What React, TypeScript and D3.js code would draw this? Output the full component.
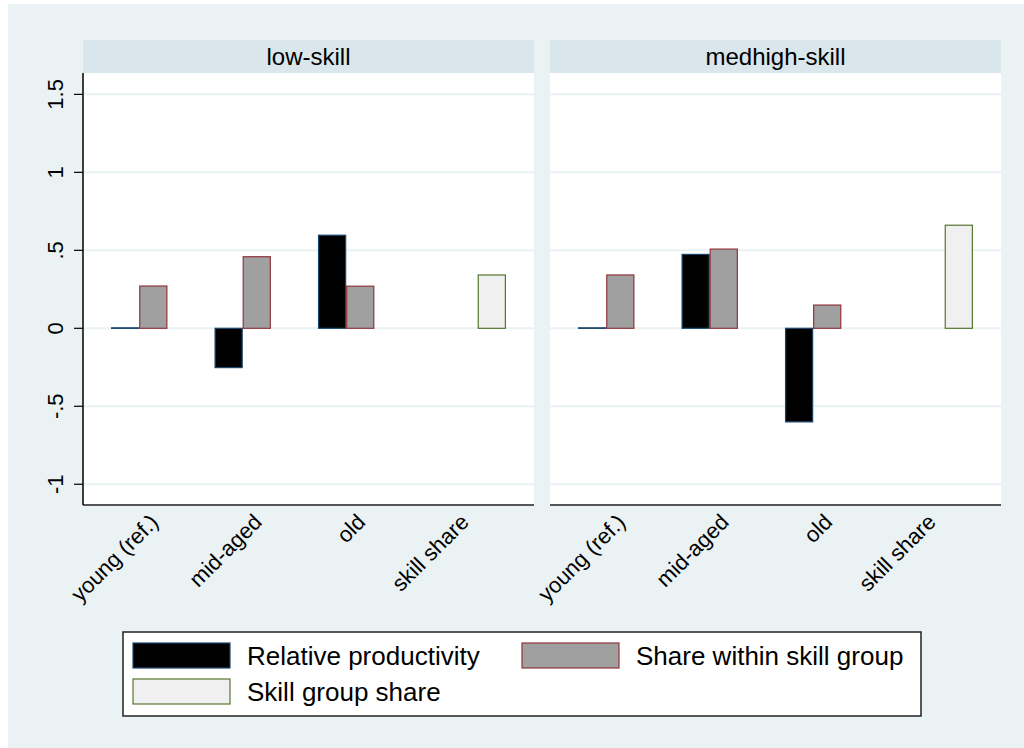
import React from "react";
import * as d3 from "d3";

const categories = ["young (ref.)", "mid-aged", "old", "skill share"];
const panels = ["low-skill", "medhigh-skill"];
const seriesNames = ["Relative productivity", "Share within skill group", "Skill group share"];

// values per panel, per category (null = no bar)
const relProdLow = [0.003, -0.252, 0.597, null];
const shareWithinLow = [0.271, 0.459, 0.27, null];
const skillShareLow = [null, null, null, 0.342];
const relProdHigh = [0.003, 0.474, -0.6, null];
const shareWithinHigh = [0.342, 0.508, 0.149, null];
const skillShareHigh = [null, null, null, 0.661];

const yTicks = [1.5, 1, 0.5, 0, -0.5, -1];
const yTickLabels = ["1.5", "1", ".5", "0", "-.5", "-1"];

const panelData = [
  [relProdLow, shareWithinLow, skillShareLow],
  [relProdHigh, shareWithinHigh, skillShareHigh],
];

const fills = ["#000000", "#a0a0a0", "#f0f0f0"];
const strokes = ["#1a476f", "#90353b", "#55752f"];

const FONT = "'Liberation Sans', Arial, Helvetica, sans-serif";

export default function App() {
  const panelX = [83, 550];
  const panelW = 451;
  const top = 73;
  const bottom = 505;
  const headerTop = 40;

  const y = d3.scaleLinear().domain([-1.133, 1.637]).range([bottom, top]);

  return (
    <svg
      width={1024}
      height={748}
      style={{ position: "absolute", left: 0, top: 0 }}
      fontFamily={FONT}
    >
      <rect x={0} y={0} width={1024} height={748} fill="#ffffff" />
      <rect x={8} y={4} width={1016} height={744} fill="#eaf2f3" />
      {panels.map((p, pi) => {
        const x0 = panelX[pi];
        const xb = d3
          .scaleBand<string>()
          .domain(categories)
          .range([x0, x0 + panelW])
          .paddingInner(19 / 103)
          .paddingOuter(28 / 103);
        const xs = d3
          .scaleBand<number>()
          .domain([0, 1, 2])
          .range([0, xb.bandwidth()]);
        return (
          <g key={p}>
            <rect x={x0} y={headerTop} width={panelW} height={top - headerTop} fill="#d9e6eb" />
            <text
              x={x0 + panelW / 2}
              y={(headerTop + top) / 2}
              dy="0.35em"
              textAnchor="middle"
              fontSize={24}
              fill="#000"
            >
              {p}
            </text>
            <rect x={x0} y={top} width={panelW} height={bottom - top} fill="#ffffff" />
            {yTicks.map((t) => (
              <line
                key={t}
                x1={x0}
                x2={x0 + panelW}
                y1={y(t)}
                y2={y(t)}
                stroke="#eaf2f3"
                strokeWidth={2}
              />
            ))}
            {panelData[pi].map((vals, si) =>
              vals.map((v, ci) => {
                if (v === null) return null;
                const bx = (xb(categories[ci]) as number) + (xs(si) as number);
                const y1 = y(Math.max(0, v));
                const y2 = y(Math.min(0, v));
                return (
                  <rect
                    key={`${si}-${ci}`}
                    x={bx + 0.5}
                    y={y1}
                    width={xs.bandwidth() - 1}
                    height={Math.max(0.5, y2 - y1)}
                    fill={fills[si]}
                    stroke={strokes[si]}
                    strokeWidth={1.2}
                  />
                );
              })
            )}
            <line x1={x0} x2={x0 + panelW} y1={bottom} y2={bottom} stroke="#555555" strokeWidth={2} />
            {categories.map((c) => {
              const cx = (xb(c) as number) + xb.bandwidth() / 2;
              return (
                <text
                  key={c}
                  transform={`translate(${cx + 1},${bottom + 13}) rotate(-45)`}
                  textAnchor="end"
                  dy="0.35em"
                  fontSize={22}
                  fill="#000"
                >
                  {c}
                </text>
              );
            })}
            {pi === 0 && (
              <g>
                <line x1={x0} x2={x0} y1={top} y2={bottom} stroke="#000" strokeWidth={1.5} />
                {yTicks.map((t, ti) => (
                  <g key={t}>
                    <line x1={x0 - 9} x2={x0} y1={y(t)} y2={y(t)} stroke="#000" strokeWidth={1.2} />
                    <text
                      transform={`translate(${x0 - 20},${y(t)}) rotate(-90)`}
                      textAnchor="middle"
                      fontSize={22}
                      fill="#000"
                    >
                      {yTickLabels[ti]}
                    </text>
                  </g>
                ))}
              </g>
            )}
          </g>
        );
      })}
      {/* legend */}
      <rect x={123} y={632} width={798} height={84} fill="#ffffff" stroke="#222" strokeWidth={1.5} />
      {seriesNames.map((s, i) => {
        const col = i === 1 ? 1 : 0;
        const row = i === 2 ? 1 : 0;
        const kx = col === 0 ? 133 : 522;
        const ky = row === 0 ? 643 : 679;
        return (
          <g key={s}>
            <rect x={kx} y={ky} width={97} height={25} fill={fills[i]} stroke={strokes[i]} strokeWidth={1.2} />
            <text x={kx + 114} y={ky + 22} fontSize={26} fill="#000">
              {s}
            </text>
          </g>
        );
      })}
    </svg>
  );
}
